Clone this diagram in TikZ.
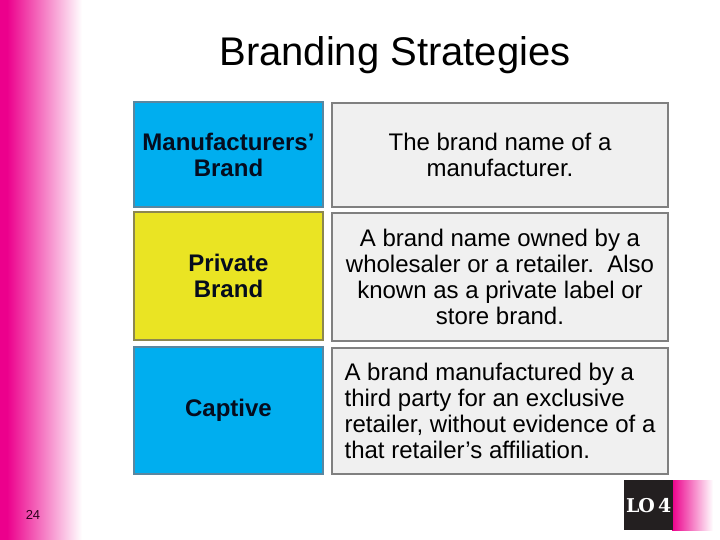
\documentclass[tikz,border=0pt]{standalone}
\usepackage{fontspec}
\setmainfont{Liberation Sans}
\newfontfamily\loserif{DejaVu Serif}
\definecolor{pinkc}{RGB}{236,0,140}
\definecolor{bluec}{RGB}{0,174,239}
\definecolor{yellowc}{RGB}{234,228,35}
\definecolor{bluebd}{RGB}{90,135,160}
\definecolor{yellowbd}{RGB}{140,135,80}
\definecolor{greyfill}{RGB}{240,240,240}
\definecolor{greybd}{RGB}{128,128,128}
\definecolor{navytext}{RGB}{5,12,30}
\definecolor{lobox}{RGB}{35,31,32}
\begin{document}
\begin{tikzpicture}[x=1pt,y=-1pt,
  cell/.style={draw, line width=2pt, inner sep=0pt, anchor=north west},
  lcell/.style={cell, text=navytext, align=center, font=\fontsize{24}{26}\selectfont\bfseries},
  rcell/.style={cell, fill=greyfill, draw=greybd, text=black, font=\fontsize{24}{26}\selectfont},
]
\useasboundingbox (0,0) rectangle (720,540);
\fill[white] (0,0) rectangle (720,540);
% left pink gradient
\fill[pinkc] (0,0) rectangle (8,540);
\shade[left color=pinkc, right color=white] (7,0) rectangle (82,540);
% title
\node[anchor=base, font=\fontsize{40}{44}\selectfont] (title) at (395,66) {Branding Strategies};
% left column
\node[lcell, fill=bluec, draw=bluebd, minimum width=189pt, minimum height=105pt] (m) at (133,101) {Manufacturers’\\Brand};
\node[lcell, fill=yellowc, draw=yellowbd, minimum width=189pt, minimum height=128pt] (p) at (133,211) {Private\\ Brand};
\node[lcell, fill=bluec, draw=bluebd, minimum width=189pt, minimum height=127pt] (c) at (133,346) {Captive};
% right column
\node[rcell, align=center, minimum width=336pt, minimum height=104pt] (md) at (331,102) {The brand name of a\\manufacturer.};
\node[rcell, align=center, minimum width=336pt, minimum height=128pt] (pd) at (331,212) {A brand name owned by a\\wholesaler or a retailer.\ \ Also\\known as a private label or\\store brand.};
\node[rcell, align=left, minimum width=336pt, minimum height=126pt] (cd) at (331,347) {A brand manufactured by a\\third party for an exclusive\\retailer, without evidence of a\\that retailer’s affiliation.};
% page number
\node[font=\fontsize{13}{15}\selectfont, text=black!80!pinkc] (pg) at (33,515) {24};
% LO badge
\shade[left color=pinkc, right color=white] (672,480) rectangle (713,530);
\node[fill=lobox, minimum width=49pt, minimum height=50pt, inner sep=0pt, anchor=north west, text=white, font=\loserif\bfseries\fontsize{19}{21}\selectfont] (lo) at (624,480) {L\kern-1ptO\,4};
\end{tikzpicture}
\end{document}
